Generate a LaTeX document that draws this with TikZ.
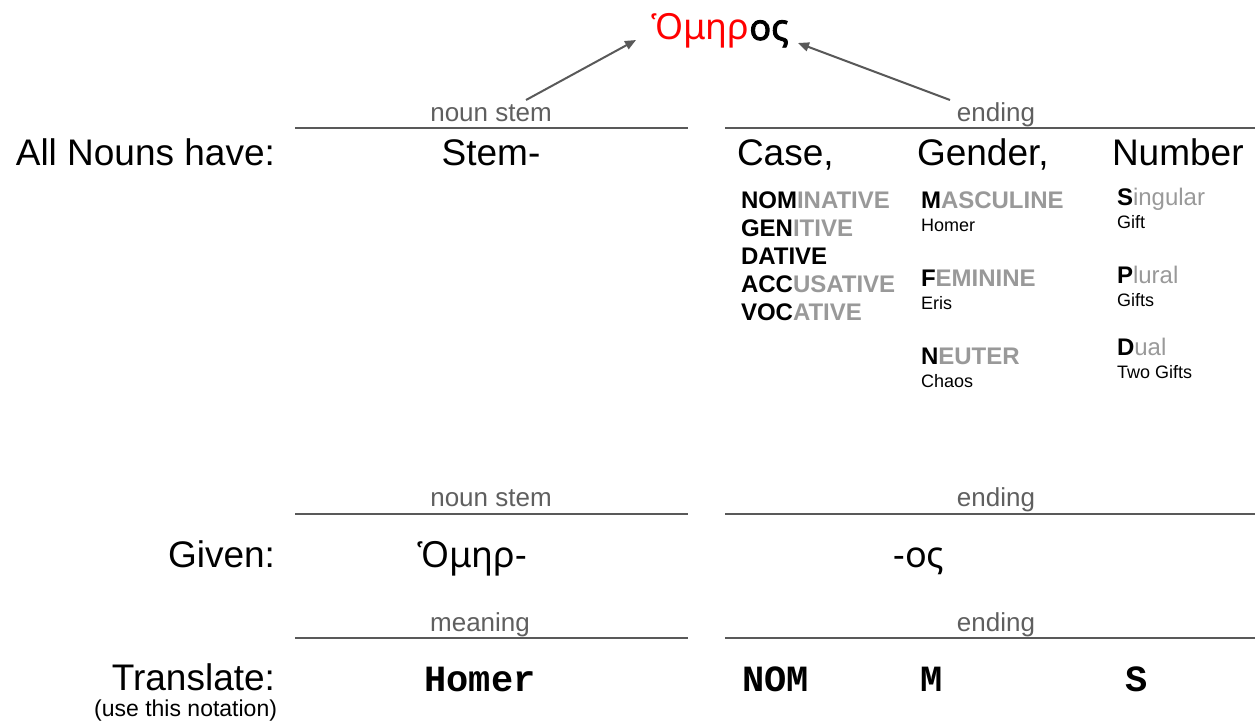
\documentclass[tikz,border=0pt]{standalone}
\usepackage{fontspec}
\setmainfont{Liberation Sans}
\setmonofont{Liberation Mono}
\newfontfamily\greekfont[Script=Greek]{Noto Sans}
\newfontfamily\greekbold[Script=Greek,FakeBold=2.5]{Noto Sans}
\usetikzlibrary{arrows.meta}
\definecolor{lblgray}{HTML}{5F5F5F}
\definecolor{linegray}{HTML}{595959}
\definecolor{lightgray}{HTML}{999999}
\definecolor{pureRed}{HTML}{FF0000}
\tikzset{
  every node/.style={inner sep=0pt, outer sep=0pt},
  maintxt/.style={font=\fontsize{37}{44}\selectfont},
  lbl/.style={font=\fontsize{26}{30}\selectfont, text=lblgray},
  cs/.style={font=\fontsize{24}{28}\selectfont\bfseries, anchor=base west},
  ex/.style={font=\fontsize{18}{22}\selectfont, anchor=base west},
  greektxt/.style={font=\fontsize{36}{42}\greekfont},
  monotxt/.style={font=\fontsize{37}{42}\selectfont\ttfamily\bfseries},
  rule/.style={draw=linegray, line width=2pt},
  pointer/.style={draw=linegray, line width=2pt, -{Triangle[length=11pt,width=9pt]}},
}
\newcommand{\hl}[2]{#1\textcolor{lightgray}{#2}}
\begin{document}
\begin{tikzpicture}[x=1pt,y=-1pt]
\useasboundingbox (0,0) rectangle (1255,725);

% title
\node[greektxt, anchor=base] (title) at (720,40) {\textcolor{pureRed}{Ὁμηρ}{\greekbold ος}};

% top section
\node[lbl, anchor=base] (l1) at (491,121) {noun stem};
\node[lbl, anchor=base] (l2) at (996,121) {ending};
\coordinate (r1a) at (295,128); \coordinate (r1b) at (688,128);
\coordinate (r2a) at (725,128); \coordinate (r2b) at (1255,128);
\draw[rule] (r1a) -- (r1b);
\draw[rule] (r2a) -- (r2b);
\coordinate (a1s) at (526,100); \coordinate (a1e) at (636,40);
\coordinate (a2s) at (950,100); \coordinate (a2e) at (798,43);
\draw[pointer] (a1s) -- (a1e);
\draw[pointer] (a2s) -- (a2e);

\node[maintxt, anchor=base east] (all) at (275,165) {All Nouns have:};
\node[maintxt, anchor=base] (stem) at (491,165) {Stem-};
\node[maintxt, anchor=base west] (case) at (737,165) {Case,};
\node[maintxt, anchor=base west] (gender) at (917,165) {Gender,};
\node[maintxt, anchor=base west] (number) at (1112,165) {Number};

% cases
\node[cs] (nom) at (741,208.5) {\hl{NOM}{INATIVE}};
\node[cs] (gen) at (741,236.5) {\hl{GEN}{ITIVE}};
\node[cs] (dat) at (741,264.5) {DATIVE};
\node[cs] (acc) at (741,292.5) {\hl{ACC}{USATIVE}};
\node[cs] (voc) at (741,320.5) {\hl{VOC}{ATIVE}};

% genders
\node[cs] (masc) at (921,208.5) {\hl{M}{ASCULINE}};
\node[ex] (homer) at (921,231) {Homer};
\node[cs] (fem) at (921,286.5) {\hl{F}{EMININE}};
\node[ex] (eris) at (921,309) {Eris};
\node[cs] (neut) at (921,364.5) {\hl{N}{EUTER}};
\node[ex] (chaos) at (921,387) {Chaos};

% numbers
\node[cs] (sing) at (1117,205.5) {S\textcolor{lightgray}{\mdseries ingular}};
\node[ex] (gift) at (1117,228) {Gift};
\node[cs] (plur) at (1117,283.5) {P\textcolor{lightgray}{\mdseries lural}};
\node[ex] (gifts) at (1117,306) {Gifts};
\node[cs] (dual) at (1117,355.5) {D\textcolor{lightgray}{\mdseries ual}};
\node[ex] (two) at (1117,378) {Two Gifts};

% given section
\node[lbl, anchor=base] (l3) at (491,506) {noun stem};
\node[lbl, anchor=base] (l4) at (996,506) {ending};
\coordinate (r3a) at (295,514); \coordinate (r3b) at (688,514);
\coordinate (r4a) at (725,514); \coordinate (r4b) at (1255,514);
\draw[rule] (r3a) -- (r3b);
\draw[rule] (r4a) -- (r4b);
\node[maintxt, anchor=base east] (given) at (275,567) {Given:};
\node[greektxt, anchor=base west] (gstem) at (417,567) {Ὁμηρ-};
\node[greektxt, anchor=base] (gend) at (919,567) {-ος};

% translate section
\node[lbl, anchor=base] (l5) at (480,631) {meaning};
\node[lbl, anchor=base] (l6) at (996,631) {ending};
\coordinate (r5a) at (295,638); \coordinate (r5b) at (688,638);
\coordinate (r6a) at (725,638); \coordinate (r6b) at (1255,638);
\draw[rule] (r5a) -- (r5b);
\draw[rule] (r6a) -- (r6b);
\node[maintxt, anchor=base east] (translate) at (275,690) {Translate:};
\node[font=\fontsize{23}{26}\selectfont, anchor=base east] (note) at (277,716) {(use this notation)};
\node[monotxt, anchor=base] (thomer) at (480,691) {Homer};
\node[monotxt, anchor=base west] (tnom) at (742,691) {NOM};
\node[monotxt, anchor=base west] (tm) at (920,691) {M};
\node[monotxt, anchor=base west] (ts) at (1125,691) {S};
\end{tikzpicture}
\end{document}
